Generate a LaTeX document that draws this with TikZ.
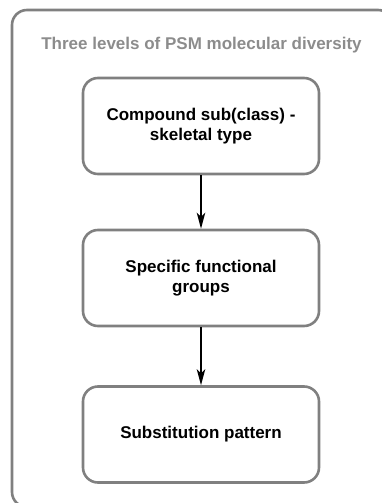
\documentclass[tikz,border=0pt]{standalone}
\usepackage{fontspec}
\setmainfont{Liberation Sans}
\usetikzlibrary{arrows.meta}
\definecolor{framegray}{HTML}{808080}
\definecolor{titlegray}{HTML}{8C8C8C}
\begin{document}
\begin{tikzpicture}[x=1pt,y=-1pt,
  levelbox/.style={draw=framegray, line width=2.6pt, rounded corners=15pt,
    minimum width=236pt, minimum height=96pt, align=center,
    font=\bfseries\fontsize{17}{20}\selectfont, text=black, inner sep=0pt},
  flow/.style={line width=1.5pt, -{Stealth[length=16pt,width=8.5pt,inset=4pt]}}]
\useasboundingbox (0,0) rectangle (382,503);
\begin{scope}
\clip (0,0) rectangle (382,503);
\draw[framegray, line width=2.6pt, rounded corners=15pt] (12,10) rectangle (393,507);
\end{scope}
\node[text=titlegray, font=\bfseries\fontsize{17}{20}\selectfont] (title) at (201.5,45) {Three levels of PSM molecular diversity};
\node[levelbox] (b1) at (201,126) {Compound sub(class) -\\skeletal type};
\node[levelbox] (b2) at (201,278) {Specific functional\\groups};
\node[levelbox] (b3) at (201,434.5) {Substitution pattern};
\draw[flow] (b1) -- (b2);
\draw[flow] (b2) -- (b3);
\end{tikzpicture}
\end{document}
